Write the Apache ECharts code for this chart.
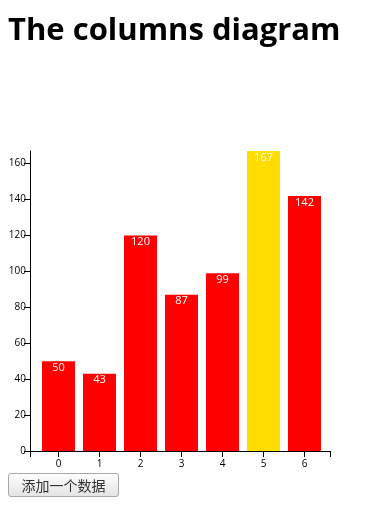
<!DOCTYPE html>
<html>
<head>
<meta charset="utf-8">
<script src="https://cdn.jsdelivr.net/npm/echarts@6/dist/echarts.min.js"></script>
<style>
  html, body { margin: 0; padding: 0; background: #fff; }
  #chart { width: 377px; height: 530px; }
  #add {
    position: absolute; left: 8px; top: 473px; width: 111px; height: 24px;
    border: 1px solid #a9a9a9; border-radius: 3px;
    background: linear-gradient(#fefefe, #e4e4e4);
    font: 14px "Noto Sans CJK SC", sans-serif; color: #333; padding: 0;
  }
</style>
</head>
<body>
<div id="chart"></div>
<button id="add">添加一个数据</button>
<script>
const categories = ["0", "1", "2", "3", "4", "5", "6"];
const values = [50, 43, 120, 87, 99, 167, 142];
const highlightIndex = 5;
const barColor = "#ff0000";
const hiColor = "#ffdd00";

const chart = echarts.init(document.getElementById("chart"));
const option = {
  animation: false,
  title: {
    text: "The columns diagram",
    left: 3,
    top: 11,
    textStyle: { fontFamily: "Open Sans", fontWeight: "bold", fontSize: 31, color: "#000" }
  },
  grid: [
    { left: 30, right: 47, top: 151, bottom: 79 },
    { left: 38, right: 52, top: 151, bottom: 79 }
  ],
  xAxis: [
    {
      type: "value", gridIndex: 0, min: 0, max: 1, interval: 1,
      axisLine: { show: true, lineStyle: { color: "#000", width: 1 } },
      axisTick: { show: true, length: 6, lineStyle: { color: "#000" } },
      axisLabel: { show: false },
      splitLine: { show: false }
    },
    {
      type: "category", gridIndex: 1, data: categories,
      axisLine: { show: false },
      axisTick: { show: true, alignWithLabel: true, length: 6, lineStyle: { color: "#000" } },
      axisLabel: { color: "#000", fontFamily: "Open Sans", fontSize: 10, margin: 8 }
    }
  ],
  yAxis: [
    {
      type: "value", gridIndex: 0, min: 0, max: 167, interval: 20,
      axisLine: { show: true, lineStyle: { color: "#000", width: 1 } },
      axisTick: { show: true, length: 6, lineStyle: { color: "#000" } },
      axisLabel: { color: "#000", fontFamily: "Open Sans", fontSize: 10, margin: 4, showMaxLabel: false },
      splitLine: { show: false }
    },
    {
      type: "value", gridIndex: 1, min: 0, max: 167, show: false, splitLine: { show: false }
    }
  ],
  series: [
    {
      type: "bar",
      xAxisIndex: 1,
      yAxisIndex: 1,
      barWidth: 33,
      data: values.map((v, i) => ({
        value: v,
        itemStyle: { color: i === highlightIndex ? hiColor : barColor }
      })),
      label: {
        show: true, position: "insideTop", distance: 1,
        color: "#fff", fontFamily: "Open Sans", fontSize: 11
      }
    }
  ]
};
chart.setOption(option);
</script>
</body>
</html>
